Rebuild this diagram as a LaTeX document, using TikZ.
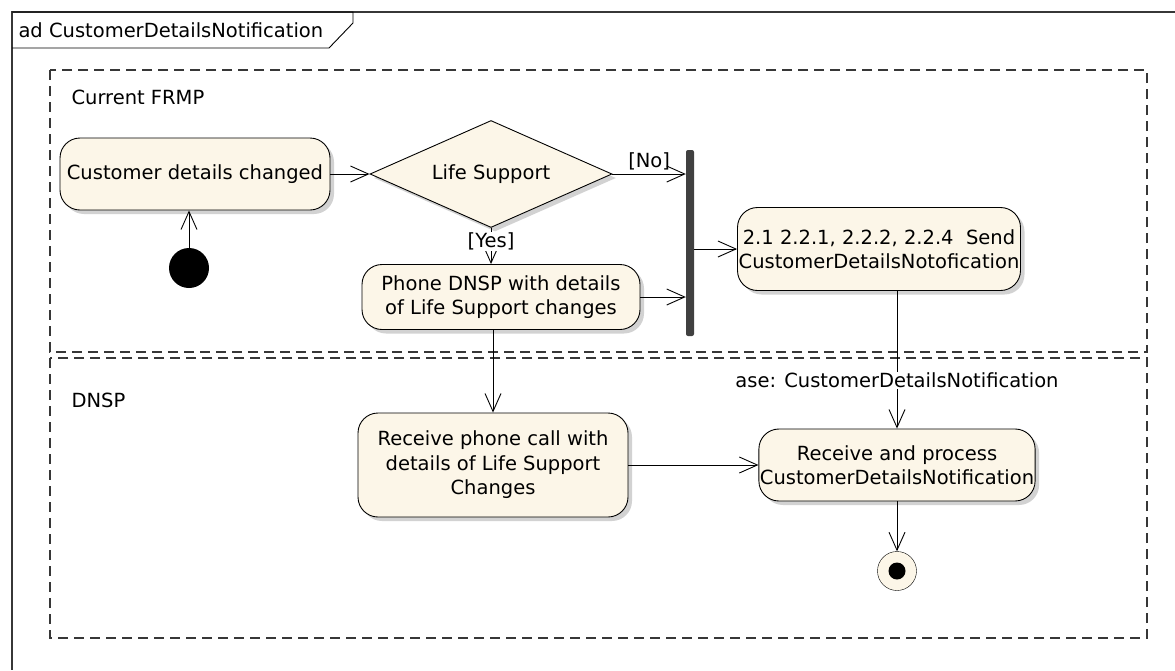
\documentclass[tikz,border=0pt]{standalone}
\usepackage{fontspec}
\setmainfont{DejaVu Sans}
\usetikzlibrary{shapes.geometric, arrows.meta, shadows}

\definecolor{actfill}{RGB}{252,246,232}
\definecolor{framegray}{RGB}{55,55,55}

\begin{document}
\begin{tikzpicture}[x=1pt, y=-1pt,
  font=\fontsize{19.5}{24.5}\selectfont,
  action/.style={draw, rectangle, rounded corners=20pt, fill=actfill, align=center, inner sep=1pt, line width=0.9pt, drop shadow={shadow xshift=4pt, shadow yshift=-4pt, fill=black!35}},
  decision/.style={draw, diamond, fill=actfill, inner sep=0pt, shape aspect=2.26, minimum width=242pt, minimum height=107pt, line width=0.9pt, drop shadow={shadow xshift=4pt, shadow yshift=-4pt, fill=black!35}},
  fork/.style={fill=black!75, rectangle, rounded corners=2pt, inner sep=0pt, minimum width=8pt, minimum height=186pt},
  initial/.style={circle, fill=black, inner sep=0pt, minimum size=40pt},
  final/.style={circle, draw, fill=actfill, inner sep=0pt, minimum size=39pt, path picture={\fill[black] (path picture bounding box.center) circle (8.5pt);}},
  lane/.style={draw=framegray, dash pattern=on 10pt off 6pt, line width=1.6pt},
  flow/.style={-{Straight Barb[length=18pt, width=16pt]}, line width=0.9pt},
  guard/.style={fill=white, inner sep=1pt}
]
\useasboundingbox (0,0) rectangle (1175,670);
\draw[framegray, line width=1.5pt] (1175,12) -- (12,12) -- (12,670);
\draw[line width=0.9pt] (12,12) -- (353,12) -- (353,23) -- (329,48) -- (12,48);
\node[anchor=west] (title) at (15,30) {ad CustomerDetailsNotification};

\draw[lane] (50,70) rectangle (1147,352);
\draw[lane] (50,358) rectangle (1147,638);
\node[anchor=west] (frmp) at (68,97) {Current FRMP};
\node[anchor=west] (dnsp) at (68,400) {DNSP};

\node[action, minimum width=270pt, minimum height=72pt] (changed) at (195,174) {Customer details changed};
\node[initial] (start) at (189,268) {};
\node[decision] (support) at (491,174) {Life Support};
\node[action, minimum width=278pt, minimum height=65pt] (phone) at (501,297) {Phone DNSP with details\\of Life Support changes};
\node[fork] (fork) at (690,243) {};
\node[action, minimum width=283pt, minimum height=83pt] (send) at (879,249) {2.1 2.2.1, 2.2.2, 2.2.4\ \ Send\\CustomerDetailsNotofication};
\node[action, minimum width=270pt, minimum height=104pt] (call) at (493,465) {Receive phone call with\\details of Life Support\\Changes};
\node[action, minimum width=265pt, minimum height=72pt] (process) at (897,465) {Receive and process\\CustomerDetailsNotification};
\node[final] (stop) at (897,571) {};

\draw[flow] (start.north) -- (start.north |- changed.south);
\draw[flow] (changed) -- (support);
\draw[flow] (support.east) -- node[above] {[No]} (support.east -| fork.west);
\draw[flow] (support.south) -- node[guard, pos=0.38] {[Yes]} (support.south |- phone.north);
\draw[flow] (phone.east) -- (phone.east -| fork.west);
\draw[flow] (fork.east |- send.west) -- (send.west);
\draw[flow] (call.north |- phone.south) -- (call.north);
\draw[flow] (process.north |- send.south) -- node[guard, pos=0.65] {ase: CustomerDetailsNotification} (process.north);
\draw[flow] (call) -- (process);
\draw[flow] (process) -- (stop);
\end{tikzpicture}
\end{document}
